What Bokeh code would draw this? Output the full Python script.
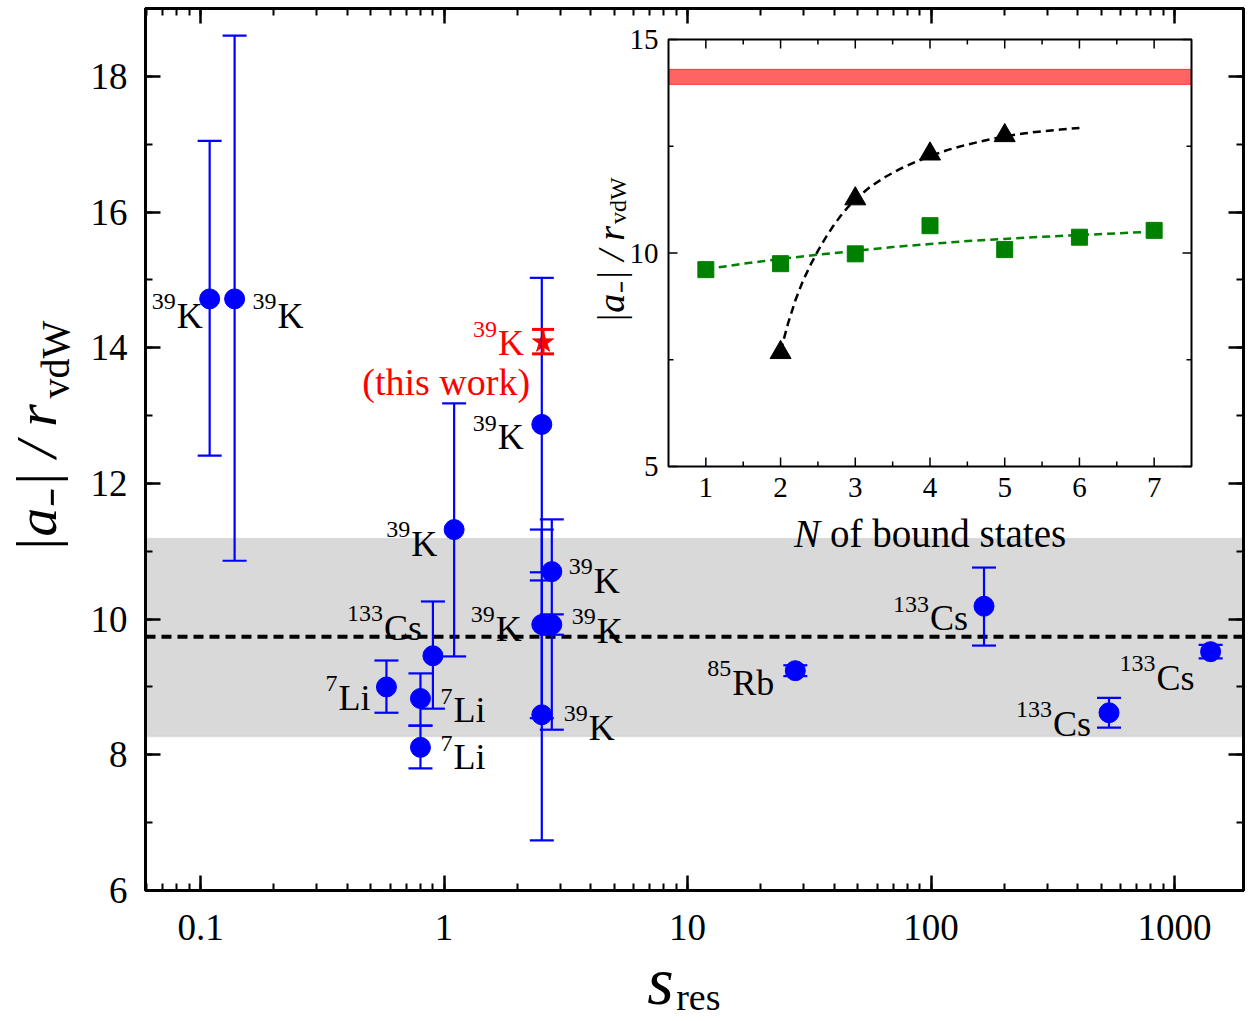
import math
from bokeh.plotting import figure
from bokeh.models import (ColumnDataSource, Range1d, LinearScale, LinearAxis, LogAxis,
                          LogTicker, SingleIntervalTicker, FixedTicker, Whisker, TeeHead,
                          BoxAnnotation, Span, CustomJSTickFormatter, GridBox)
from bokeh.core.properties import value, field
from bokeh.embed import file_html
from bokeh.resources import INLINE

# ---------------- data : main panel ----------------
s_res    = [0.109, 0.138, 2.52, 2.52, 2.52, 2.77, 2.77, 1.10, 0.90, 0.58, 0.80, 0.80, 27.7, 165.0, 538.0, 1406.0]
a_ratio  = [14.72, 14.72, 12.87, 9.92, 8.59, 10.70, 9.92, 11.32, 9.46, 9.00, 8.83, 8.11, 9.24, 10.19, 8.62, 9.52]
a_upper  = [17.05, 18.60, 15.03, 11.32, 10.57, 11.47, 10.07, 13.18, 10.26, 9.39, 9.20, 8.43, 9.32, 10.76, 8.84, 9.62]
a_lower  = [12.41, 10.86, 10.69, 8.54, 6.74, 8.37, 9.77, 9.45, 8.68, 8.62, 8.43, 7.80, 9.16, 9.61, 8.40, 9.42]
iso_mass = ["39", "39", "39", "39", "39", "39", "39", "39", "133", "7", "7", "7", "85", "133", "133", "133"]
iso_elem = ["K", "K", "K", "K", "K", "K", "K", "K", "Cs", "Li", "Li", "Li", "Rb", "Cs", "Cs", "Cs"]

this_s, this_a, this_up, this_lo = [2.55], [14.08], [14.27], [13.91]
this_mass, this_elem, this_note = ["39"], ["K"], ["(this work)"]

band_lo, band_hi, band_mean = 8.27, 11.19, 9.74

# ---------------- data : inset ----------------
n_tri = [2, 3, 4, 5]
a_tri = [7.67, 11.27, 12.32, 12.75]
n_sq = [1, 2, 3, 4, 5, 6, 7]
a_sq = [9.61, 9.75, 9.98, 10.64, 10.08, 10.37, 10.53]
fit_tri_n = [2.0, 2.1, 2.2, 2.3, 2.4, 2.5, 2.6, 2.7, 2.8, 2.9, 3.0, 3.2, 3.4, 3.6, 3.8, 4.0, 4.25, 4.5, 4.75, 5.0, 5.25, 5.5, 5.75, 6.0]
fit_tri_a = [7.70, 8.35, 8.90, 9.35, 9.72, 10.05, 10.35, 10.62, 10.86, 11.07, 11.26, 11.55, 11.78, 11.97, 12.13, 12.27, 12.42, 12.54, 12.64, 12.73, 12.80, 12.85, 12.89, 12.93]
fit_sq_n = [1, 1.5, 2, 2.5, 3, 3.5, 4, 4.5, 5, 5.5, 6, 6.5, 7]
fit_sq_a = [9.62, 9.75, 9.86, 9.96, 10.05, 10.14, 10.21, 10.28, 10.33, 10.38, 10.42, 10.46, 10.50]
this_band_lo, this_band_hi = 13.95, 14.30
inset_xticks = [1, 2, 3, 4, 5, 6, 7]
inset_xminor = [1.5, 2.5, 3.5, 4.5, 5.5, 6.5]
inset_yticks = [5, 10, 15]
inset_yminor = [7.5, 12.5]

# ---------------- layout constants ----------------
W, H = 1250, 1021
FL, FR, FT, FB = 145, 1243, 8, 890          # main frame (page px)
IL, IR, IT, IB = 668, 1191, 39, 466         # inset frame (page px)
IX0, IX1, IY0, IY1 = 0.5, 7.5, 5.0, 15.0    # inset data window
FONT = "Liberation Serif"
BLUE, RED, GREEN = "#0000ff", "#ff0000", "#008000"

p = figure(width=W, height=H, x_axis_type="log",
           x_range=Range1d(0.05942, 1919), y_range=Range1d(6, 19),
           output_backend="svg", toolbar_location=None,
           min_border_left=FL, min_border_right=W - FR,
           min_border_top=FT, min_border_bottom=H - FB)
p.xgrid.visible = False
p.ygrid.visible = False
p.outline_line_color = "black"
p.outline_line_width = 3
p.background_fill_color = "white"
p.border_fill_color = "white"

xt = LogTicker(mantissas=[1], num_minor_ticks=10)
yt = SingleIntervalTicker(interval=2, num_minor_ticks=2)


def style_axis(ax, labels=True):
    ax.axis_line_width = 3
    ax.axis_line_color = "black"
    ax.major_tick_in = 15
    ax.major_tick_out = 0
    ax.minor_tick_in = 7
    ax.minor_tick_out = 0
    ax.major_tick_line_width = 2.5
    ax.minor_tick_line_width = 2
    ax.major_tick_line_color = "black"
    ax.minor_tick_line_color = "black"
    ax.major_label_text_font = FONT
    ax.major_label_text_font_size = "37px"
    ax.major_label_text_color = "black"
    if not labels:
        ax.major_label_text_font_size = "1px"
        ax.major_label_text_alpha = 0.0
        ax.major_label_standoff = 0


xa = p.xaxis[0]
xa.ticker = xt
xa.formatter = CustomJSTickFormatter(code="return Number(tick.toPrecision(6)).toString();")
style_axis(xa)
xa.major_label_standoff = 24
ya = p.yaxis[0]
ya.ticker = yt
style_axis(ya)
ya.major_label_standoff = 18

top = LogAxis(ticker=xt)
style_axis(top, labels=False)
p.add_layout(top, "above")
right = LinearAxis(ticker=yt)
style_axis(right, labels=False)
p.add_layout(right, "right")

# ---------------- band + mean line ----------------
p.add_layout(BoxAnnotation(bottom=band_lo, top=band_hi, fill_color="#d9d9d9", fill_alpha=1.0,
                           line_color="#b8b8b8", line_width=1.5, level="underlay"))
p.add_layout(Span(location=band_mean, dimension="width", line_color="black",
                  line_width=4, line_dash="10 6", level="underlay"))

# ---------------- literature points ----------------
src = ColumnDataSource(dict(x=s_res, y=a_ratio, up=a_upper, lo=a_lower))
p.add_layout(Whisker(source=src, base="x", upper="up", lower="lo", dimension="height",
                     line_color=BLUE, line_width=2.2, level="glyph",
                     upper_head=TeeHead(size=24, line_color=BLUE, line_width=2.2),
                     lower_head=TeeHead(size=24, line_color=BLUE, line_width=2.2)))
p.scatter("x", "y", source=src, size=20, color=BLUE, marker="circle")

# this work
tsrc = ColumnDataSource(dict(x=this_s, y=this_a, up=this_up, lo=this_lo))
p.add_layout(Whisker(source=tsrc, base="x", upper="up", lower="lo", dimension="height",
                     line_color=RED, line_width=3, level="glyph",
                     upper_head=TeeHead(size=22, line_color=RED, line_width=3),
                     lower_head=TeeHead(size=22, line_color=RED, line_width=3)))
p.scatter("x", "y", source=tsrc, size=22, color=RED, marker="star")

# ---------------- isotope labels ----------------
LS, SS = 36, 24
CW = {"0": .5, "1": .5, "2": .5, "3": .5, "4": .5, "5": .5, "6": .5, "7": .5, "8": .5, "9": .5,
      "K": .722, "L": .611, "i": .278, "C": .667, "s": .389, "R": .667, "b": .5}


def tw(s, size):
    return sum(CW.get(c, .5) for c in s) * size

# placement of each label relative to its point: side, dx, dy (px)
lab_side = ["l", "r", "l", "l", "r", "r", "r", "l", "l", "l", "r", "r", "l", "l", "l", "l"]
lab_dx   = [-7, 18, -18, -20, 22, 17, 20, -17, -11, -16, 20, 20, -21, -16, -18, -16]
lab_dy   = [17, 17, 13, 4, 13, 9, 6, 14, -28, 11, 12, 10, 12, 12, 11, 26]


def label_sources(xs, ys, masses, elems, sides, dxs, dys):
    m = dict(x=[], y=[], t=[], xo=[], yo=[], al=[])
    s = dict(x=[], y=[], t=[], xo=[], yo=[], al=[])
    for x, y, ms, el, sd, dx, dy in zip(xs, ys, masses, elems, sides, dxs, dys):
        if sd == "l":
            m_xo, m_al = dx, "right"
            s_xo, s_al = dx - tw(el, LS) - 1, "right"
        else:
            s_xo, s_al = dx, "left"
            m_xo, m_al = dx + tw(ms, SS) + 1, "left"
        for d, t, xo, yo, al in ((m, el, m_xo, dy, m_al), (s, ms, s_xo, dy - 14, s_al)):
            d["x"].append(x); d["y"].append(y); d["t"].append(t)
            d["xo"].append(xo); d["yo"].append(yo); d["al"].append(al)
    return ColumnDataSource(m), ColumnDataSource(s)


def draw_labels(msrc, ssrc, color):
    p.text(x="x", y="y", text="t", x_offset="xo", y_offset="yo", text_align=field("al"),
           text_baseline="alphabetic", text_font=value(FONT), text_font_size=f"{LS}px",
           text_color=color, source=msrc)
    p.text(x="x", y="y", text="t", x_offset="xo", y_offset="yo", text_align=field("al"),
           text_baseline="alphabetic", text_font=value(FONT), text_font_size=f"{SS}px",
           text_color=color, source=ssrc)


ms, ss = label_sources(s_res, a_ratio, iso_mass, iso_elem, lab_side, lab_dx, lab_dy)
draw_labels(ms, ss, "black")
ms2, ss2 = label_sources(this_s, this_a, this_mass, this_elem, ["l"], [-19], [1])
draw_labels(ms2, ss2, RED)
p.text(x=this_s, y=this_a, text=this_note, x_offset=-13, y_offset=40, text_align="right",
       text_baseline="alphabetic", text_font=value(FONT), text_font_size="38px", text_color=RED)

# ---------------- inset (own linear scales) ----------------
kx = (IR - IL) / (IX1 - IX0)
ky = (IB - IT) / (IY1 - IY0)
p.extra_x_ranges = {"ix": Range1d(IX0 - (IL - FL) / kx, IX1 + (FR - IR) / kx)}
p.extra_y_ranges = {"iy": Range1d(IY0 - (FB - IB) / ky, IY1 + (IT - FT) / ky)}
p.extra_x_scales = {"ix": LinearScale()}
p.extra_y_scales = {"iy": LinearScale()}
ikw = dict(x_range_name="ix", y_range_name="iy")

p.quad(left=[IX0], right=[IX1], bottom=[IY0], top=[IY1], fill_color="white",
       line_color=None, **ikw)
p.quad(left=[IX0], right=[IX1], bottom=[this_band_lo], top=[this_band_hi],
       fill_color="#ff6464", line_color="#ff3030", line_width=1, **ikw)
p.line(fit_tri_n, fit_tri_a, line_color="black", line_width=2.5, line_dash="8 5", **ikw)
p.line(fit_sq_n, fit_sq_a, line_color=GREEN, line_width=2.5, line_dash="8 5", **ikw)
p.scatter(n_sq, a_sq, marker="square", size=16, color=GREEN, **ikw)
p.scatter(n_tri, a_tri, marker="triangle", size=21, color="black", **ikw)

ux, uy = 1.0 / kx, 1.0 / ky
TMAJ, TMIN = 9, 5
x0s, x1s, y0s, y1s = [], [], [], []
for t, L in [(t, TMAJ) for t in inset_xticks] + [(t, TMIN) for t in inset_xminor]:
    x0s += [t, t]; x1s += [t, t]
    y0s += [IY0, IY1]; y1s += [IY0 + L * uy, IY1 - L * uy]
for t, L in [(t, TMAJ) for t in inset_yticks] + [(t, TMIN) for t in inset_yminor]:
    x0s += [IX0, IX1]; x1s += [IX0 + L * ux, IX1 - L * ux]
    y0s += [t, t]; y1s += [t, t]
p.segment(x0=x0s, y0=y0s, x1=x1s, y1=y1s, line_color="black", line_width=1.5, **ikw)
p.quad(left=[IX0], right=[IX1], bottom=[IY0], top=[IY1], fill_color=None,
       line_color="black", line_width=2, **ikw)

p.text(x=inset_xticks, y=[IY0] * len(inset_xticks), text=[str(t) for t in inset_xticks],
       y_offset=11, text_align="center", text_baseline="top", text_font=value(FONT),
       text_font_size="29px", text_color="black", **ikw)
p.text(x=[IX0] * len(inset_yticks), y=inset_yticks, text=[str(t) for t in inset_yticks],
       x_offset=-10, text_align="right", text_baseline="middle", text_font=value(FONT),
       text_font_size="29px", text_color="black", **ikw)
xmid = 0.5 * (IX0 + IX1)
p.text(x=[xmid], y=[IY0], text=["N"], x_offset=-110, y_offset=67, text_align="right",
       text_baseline="alphabetic", text_font=value(FONT), text_font_style="italic",
       text_font_size="39px", text_color="black", **ikw)
p.text(x=[xmid], y=[IY0], text=["of bound states"], x_offset=-100, y_offset=67, text_align="left",
       text_baseline="alphabetic", text_font=value(FONT),
       text_font_size="39px", text_color="black", **ikw)
ymid = 0.5 * (IY0 + IY1)
p.text(x=[IX0], y=[ymid], text=["|a₋| / r"], x_offset=-58, y_offset=-27, angle=math.pi / 2,
       text_align="right", text_baseline="alphabetic", text_font=value(FONT),
       text_font_style="italic", text_font_size="38px", text_color="black", **ikw)
p.text(x=[IX0], y=[ymid], text=["vdW"], x_offset=-51, y_offset=-29, angle=math.pi / 2,
       text_align="left", text_baseline="alphabetic", text_font=value(FONT),
       text_font_size="24px", text_color="black", **ikw)

# ---------------- transparent overlays carrying the axis titles ----------------
EM, EN, THIN = "\u2003", "\u2002", "\u2009"


def title_overlay(ylab, ysize, ystyle, ystand, xlab, xsize, xstyle, xstand):
    o = figure(width=W, height=H, x_range=Range1d(0, 1), y_range=Range1d(0, 1),
               output_backend="svg", toolbar_location=None, min_border=0)
    o.xgrid.visible = False
    o.ygrid.visible = False
    o.outline_line_color = None
    o.background_fill_color = None
    o.border_fill_color = None
    for ax, lab, size, style, stand in ((o.yaxis[0], ylab, ysize, ystyle, ystand),
                                        (o.xaxis[0], xlab, xsize, xstyle, xstand)):
        ax.ticker = FixedTicker(ticks=[])
        ax.axis_line_color = None
        ax.major_tick_line_color = None
        ax.minor_tick_line_color = None
        ax.major_tick_out = 0
        ax.major_label_standoff = 0
        ax.axis_label = lab
        ax.axis_label_text_font = FONT
        ax.axis_label_text_font_size = f"{size}px"
        ax.axis_label_text_font_style = style
        ax.axis_label_text_color = "black"
        ax.axis_label_standoff = stand
    return o


# main symbols (|a-|/r and s); trailing em spaces shift them off-centre
o1 = title_overlay("|a₋| / r" + EM, 58, "italic", 77, "s" + EM, 68, "italic", 52)
# subscripts (vdW and res); leading spaces shift them the other way
o2 = title_overlay(EM * 4 + EN + "vdW", 40, "normal", 68, THIN + "res", 38, "normal", 85)

layout = GridBox(children=[(p, 0, 0), (o1, 0, 0), (o2, 0, 0)])

open("out.html", "w").write(file_html(layout, INLINE))
